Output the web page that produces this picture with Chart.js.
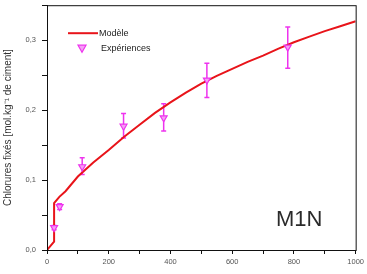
<!DOCTYPE html>
<html>
<head>
<meta charset="utf-8">
<script src="https://cdn.jsdelivr.net/npm/chart.js@4/dist/chart.umd.min.js"></script>
<style>
  html, body { margin: 0; padding: 0; background: #fff; }
  #wrap { width: 367px; height: 274px; }
</style>
</head>
<body>
<div id="wrap"><canvas id="chart"></canvas></div>
<script>
// model curve
const modelX = [0, 23, 23, 40, 60, 100, 150, 200, 250, 300, 350, 400, 450, 500, 550, 600, 650, 700, 750, 800, 850, 900, 950, 1000];
const modelY = [0, 0.012, 0.067, 0.076, 0.084, 0.105, 0.125, 0.143, 0.162, 0.179, 0.196, 0.211, 0.225, 0.238, 0.249, 0.259, 0.269, 0.278, 0.288, 0.297, 0.305, 0.313, 0.320, 0.327];

// experiments with error bars
const expX = [23, 41, 114, 248, 378, 518, 780];
const expY = [0.032, 0.062, 0.119, 0.177, 0.189, 0.243, 0.290];
const expLow = [0.029, 0.058, 0.108, 0.160, 0.170, 0.218, 0.260];
const expHigh = [0.035, 0.066, 0.132, 0.195, 0.209, 0.267, 0.319];

const xTickLabels = ['0', '200', '400', '600', '800', '1000'];
const yTickLabels = ['0,0', '0,1', '0,2', '0,3'];

const font = 'Liberation Sans, Arial, sans-serif';
const red = '#e8141a';
const magenta = '#ee33ee';

const extras = {
    id: 'extras',
    beforeDatasetsDraw(chart) {
        const { ctx, scales: { x, y } } = chart;
        ctx.save();
        ctx.strokeStyle = magenta;
        ctx.lineWidth = 1.5;
        expX.forEach((v, i) => {
            const px = x.getPixelForValue(v);
            const lo = y.getPixelForValue(expLow[i]);
            const hi = y.getPixelForValue(expHigh[i]);
            ctx.beginPath();
            ctx.moveTo(px, lo); ctx.lineTo(px, hi);
            ctx.moveTo(px - 2.5, lo); ctx.lineTo(px + 2.5, lo);
            ctx.moveTo(px - 2.5, hi); ctx.lineTo(px + 2.5, hi);
            ctx.stroke();
        });
        ctx.restore();
    },
    afterDraw(chart) {
        const { ctx, chartArea: a } = chart;
        ctx.save();
        // frame
        ctx.strokeStyle = '#111';
        ctx.lineWidth = 1;
        ctx.strokeRect(a.left + 0.5, a.top + 0.5, a.right - a.left, a.bottom - a.top);

        // legend
        const lx = a.left + 21, ly = a.top + 28;
        ctx.strokeStyle = red;
        ctx.lineWidth = 2;
        ctx.beginPath();
        ctx.moveTo(lx, ly); ctx.lineTo(lx + 30, ly);
        ctx.stroke();
        ctx.fillStyle = '#222';
        ctx.font = '9px ' + font;
        ctx.textBaseline = 'middle';
        ctx.fillText('Modèle', lx + 31, ly);
        ctx.fillText('Expériences', lx + 33, ly + 15);

        // triangle
        const tx = lx + 14, ty = ly + 15;
        ctx.beginPath();
        ctx.moveTo(tx - 4, ty - 3);
        ctx.lineTo(tx + 4, ty - 3);
        ctx.lineTo(tx, ty + 4);
        ctx.closePath();
        ctx.fillStyle = '#f4a0f4';
        ctx.fill();
        ctx.strokeStyle = magenta;
        ctx.lineWidth = 1.2;
        ctx.stroke();

        // sample label
        ctx.fillStyle = '#2a2a2a';
        ctx.font = '22px ' + font;
        ctx.textBaseline = 'alphabetic';
        ctx.fillText('M1N', 276, 226);
        ctx.restore();
    }
};

new Chart(document.getElementById('chart'), {
    type: 'scatter',
    data: {
        datasets: [
            {
                label: 'Expériences',
                data: expX.map((v, i) => ({ x: v, y: expY[i] })),
                pointStyle: 'triangle',
                rotation: 180,
                pointRadius: 4,
                backgroundColor: '#f4a0f4',
                borderColor: magenta,
                borderWidth: 1.2,
                order: 1
            },
            {
                label: 'Modèle',
                data: modelX.map((v, i) => ({ x: v, y: modelY[i] })),
                showLine: true,
                borderColor: red,
                borderWidth: 2,
                pointRadius: 0,
                tension: 0,
                order: 2
            }
        ]
    },
    options: {
        responsive: true,
        maintainAspectRatio: false,
        animation: false,
        layout: { padding: { top: 0, right: 9, left: 0, bottom: 0 } },
        plugins: {
            legend: { display: false },
            tooltip: { enabled: false }
        },
        scales: {
            x: {
                type: 'linear',
                min: 0,
                max: 1000,
                afterFit: s => { s.height = 24; },
                border: { display: true, color: '#111', width: 1 },
                grid: { drawOnChartArea: false, drawTicks: true, tickLength: 4, color: '#111' },
                ticks: {
                    stepSize: 100,
                    autoSkip: false,
                    maxRotation: 0,
                    padding: 3,
                    color: '#555',
                    font: { family: font, size: 7.5 },
                    callback: v => (v % 200 === 0 ? xTickLabels[v / 200] : '')
                }
            },
            y: {
                type: 'linear',
                min: 0,
                max: 0.35,
                afterFit: s => { s.width = 47; s.paddingTop = 0; },
                border: { display: true, color: '#111', width: 1 },
                grid: { drawOnChartArea: false, drawTicks: true, tickLength: 5, color: '#111' },
                title: {
                    display: true,
                    text: 'Chlorures fixés [mol.kg⁻¹ de ciment]',
                    color: '#333',
                    font: { family: font, size: 10 },
                    padding: { top: 2, bottom: 0 }
                },
                ticks: {
                    stepSize: 0.05,
                    autoSkip: false,
                    padding: 6,
                    color: '#555',
                    font: { family: font, size: 7.5 },
                    callback: v => {
                        const k = Math.round(v * 20);
                        return k % 2 === 0 ? yTickLabels[k / 2] : '';
                    }
                }
            }
        }
    },
    plugins: [extras]
});
</script>
</body>
</html>
